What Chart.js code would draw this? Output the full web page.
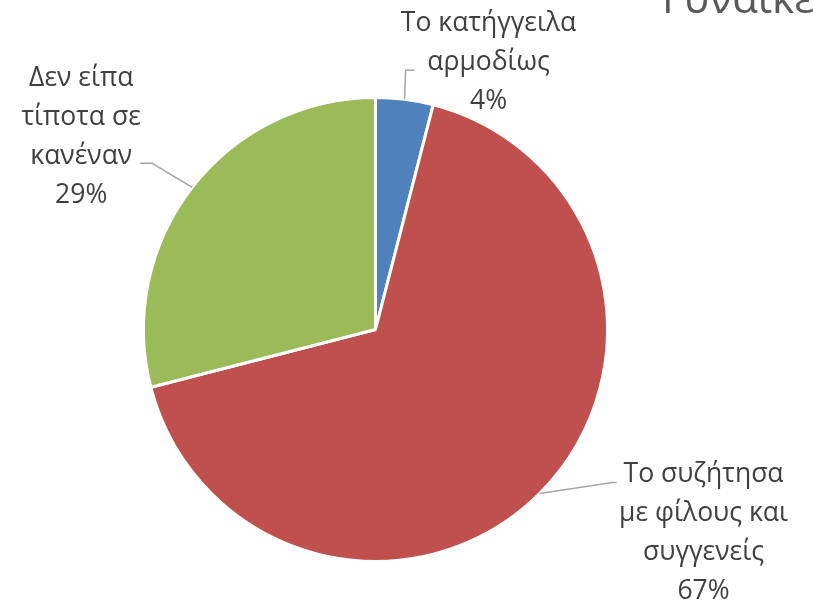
<!DOCTYPE html>
<html>
<head>
<meta charset="utf-8">
<script src="https://cdn.jsdelivr.net/npm/chart.js@4"></script>
<style>
  html, body { margin: 0; padding: 0; background: #fff; }
  #wrap { width: 813px; height: 606px; }
</style>
</head>
<body>
<div id="wrap"><canvas id="chart1"></canvas></div>
<script>
// Data
const categories = ["Το κατήγγειλα αρμοδίως", "Το συζήτησα με φίλους και συγγενείς", "Δεν είπα τίποτα σε κανέναν"];
const labelLines = [
    ["Το κατήγγειλα", "αρμοδίως"],
    ["Το συζήτησα", "με φίλους και", "συγγενείς"],
    ["Δεν είπα", "τίποτα σε", "κανέναν"]
];
const shares = [4, 67, 29];
const chartTitle = "Γυναίκες";

const sliceColors = ["#4F81BD", "#C0504D", "#9BBB59"];

// label placement, relative to the point where the leader leaves the pie
const labelStyle = [
    { dx: 84, dy: -37, elbow: [1, -29], end: [10, -29] },
    { dx: 164, dy: 39, elbow: [73, -11], end: [77, -11] },
    { dx: -111, dy: -50, elbow: [-40, -24], end: [-52, -24] }
];

const textFont = '26.5px "Open Sans", sans-serif';
const lineHeight = 39;

// Leader lines and data labels
const pieLabels = {
    id: 'pieLabels',
    afterDatasetsDraw(chart) {
        const ctx = chart.ctx;
        const arcs = chart.getDatasetMeta(0).data;
        ctx.save();
        arcs.forEach((arc, i) => {
            const mid = (arc.startAngle + arc.endAngle) / 2;
            const ex = arc.x + Math.cos(mid) * arc.outerRadius;
            const ey = arc.y + Math.sin(mid) * arc.outerRadius;
            const st = labelStyle[i];

            ctx.strokeStyle = '#A6A6A6';
            ctx.lineWidth = 1.5;
            ctx.beginPath();
            ctx.moveTo(ex, ey);
            ctx.lineTo(ex + st.elbow[0], ey + st.elbow[1]);
            ctx.lineTo(ex + st.end[0], ey + st.end[1]);
            ctx.stroke();

            const lines = labelLines[i].concat([shares[i] + '%']);
            const cx = ex + st.dx;
            const cy = ey + st.dy;
            const top = cy - (lines.length - 1) * lineHeight / 2;
            ctx.fillStyle = '#404040';
            ctx.font = textFont;
            ctx.textAlign = 'center';
            ctx.textBaseline = 'middle';
            lines.forEach((t, k) => ctx.fillText(t, cx, top + k * lineHeight));
        });

        // title, cut at the top edge like the original
        ctx.fillStyle = '#595959';
        ctx.font = '42px "Open Sans", sans-serif';
        ctx.textAlign = 'left';
        ctx.textBaseline = 'alphabetic';
        ctx.fillText(chartTitle, 662, 13);
        ctx.restore();
    }
};

new Chart(document.getElementById("chart1"), {
    type: "pie",
    data: {
        labels: categories,
        datasets: [{
            data: shares,
            backgroundColor: sliceColors,
            borderColor: "#ffffff",
            borderWidth: 3
        }]
    },
    options: {
        responsive: true,
        maintainAspectRatio: false,
        animation: false,
        layout: {
            padding: { left: 142, right: 204, top: 96, bottom: 43 }
        },
        plugins: {
            legend: { display: false },
            tooltip: { enabled: false }
        }
    },
    plugins: [pieLabels]
});
</script>
</body>
</html>
